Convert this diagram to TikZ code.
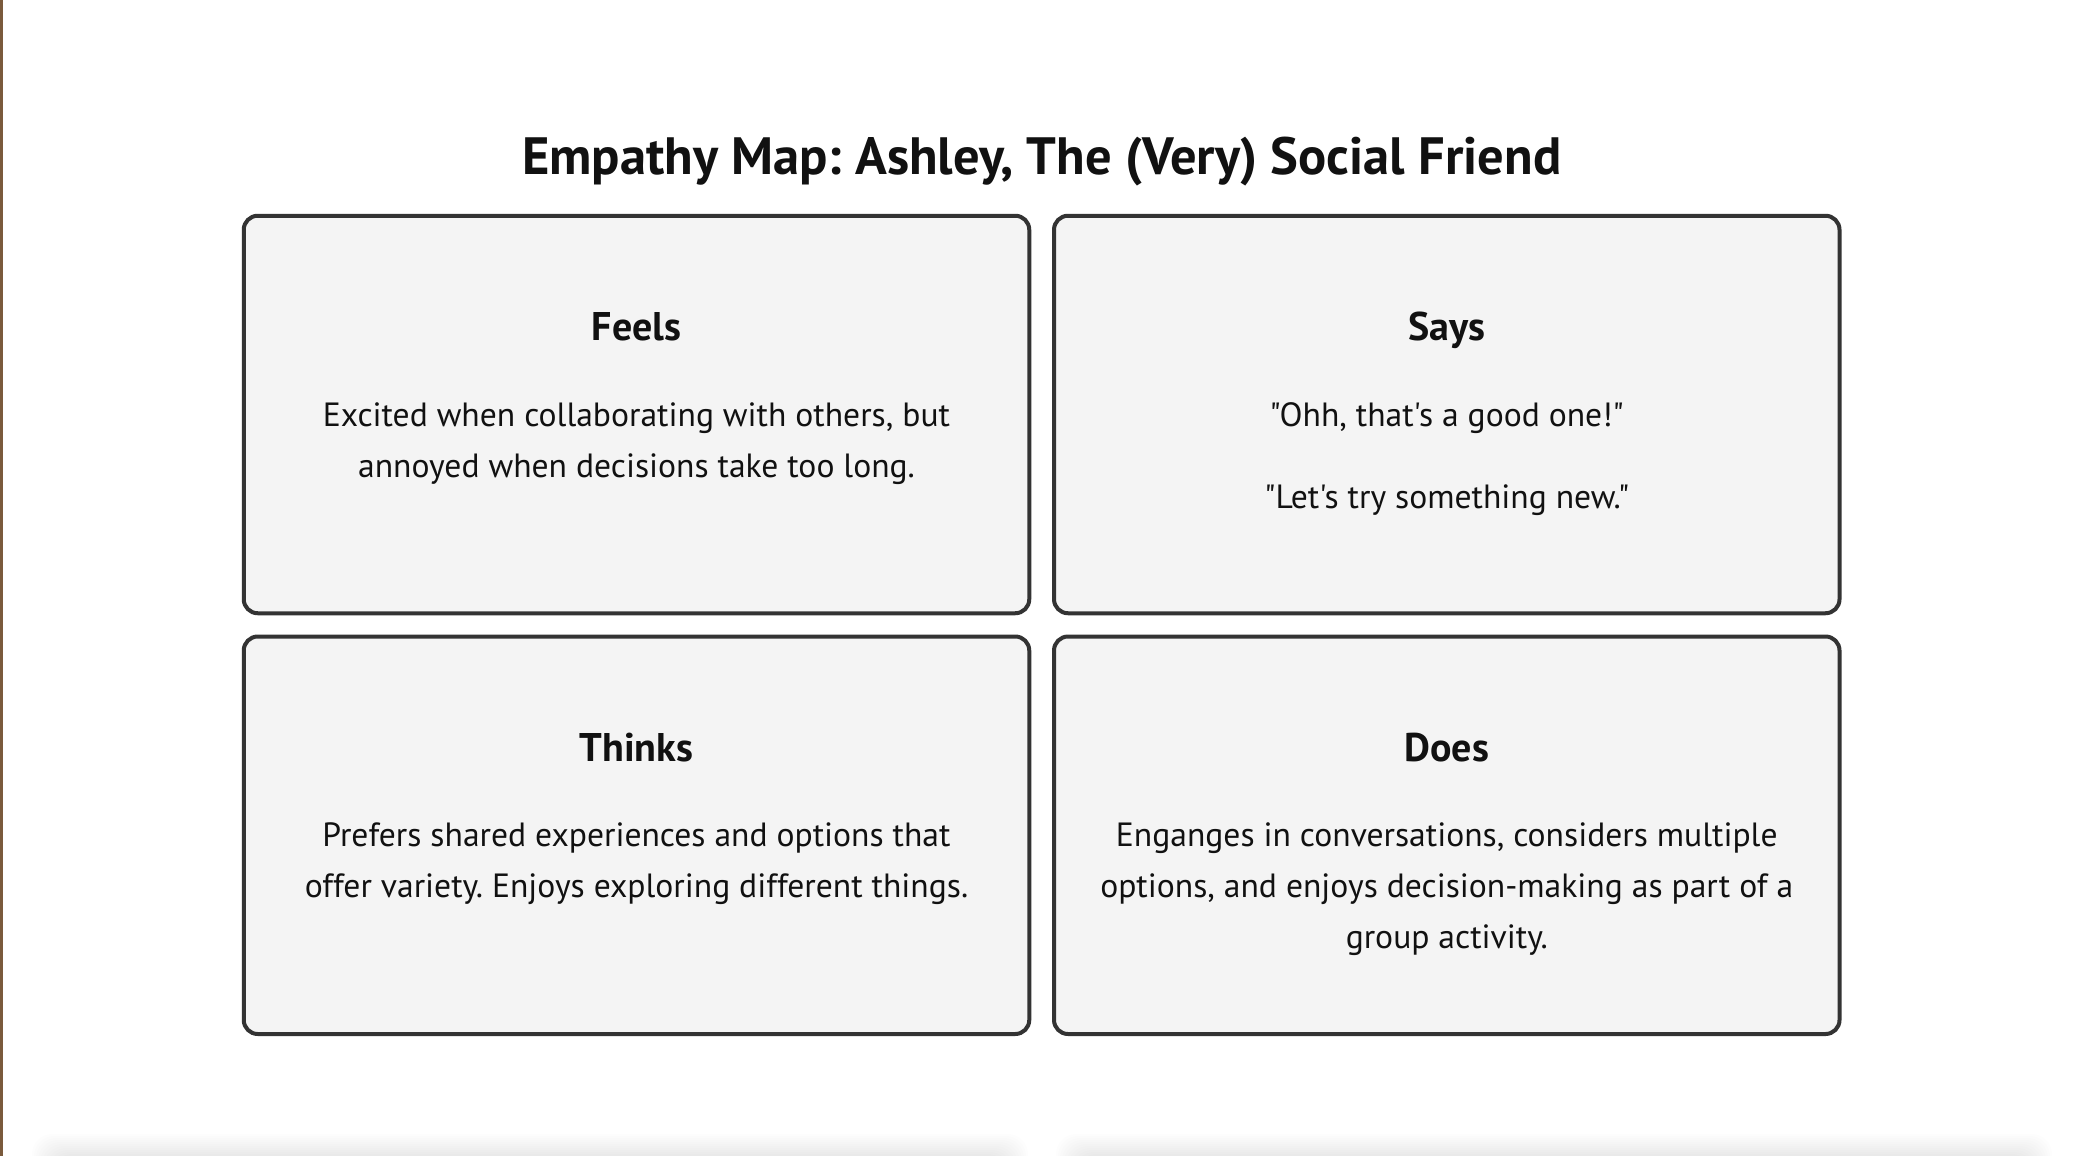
\documentclass[tikz,border=0pt]{standalone}
\usepackage{fontspec}
\setmainfont{PT Sans}[Ligatures=TeXOff]
\frenchspacing
\begin{document}
\begin{tikzpicture}[x=1pt,y=-1pt,
  card/.style={draw=cardline, fill=cardfill, line width=4pt, rounded corners=14pt,
    minimum width=785.5pt, minimum height=397.5pt, inner sep=0pt, outer sep=0pt},
  heading/.style={anchor=base, inner sep=0pt, text=ink, font=\bfseries\fontsize{40}{48}\selectfont},
  bodytext/.style={anchor=base, inner sep=0pt, text=ink, font=\fontsize{33.6}{51}\selectfont},
  pagetitle/.style={anchor=base, inner sep=0pt, text=ink, font=\bfseries\fontsize{52.5}{60}\selectfont}]
\definecolor{cardline}{HTML}{333333}
\definecolor{cardfill}{HTML}{F4F4F4}
\definecolor{ink}{HTML}{111111}
\definecolor{edgebrown}{HTML}{7A5A3C}
\newcommand{\lines}[1]{{\setlength{\tabcolsep}{0pt}\begin{tabular}[t]{c}#1\end{tabular}}}

\useasboundingbox (0,0) rectangle (2082,1156);
\fill[white] (0,0) rectangle (2082,1156);

% soft shadows of the next row of cards, cut off by the page edge
\begin{scope}
  \clip (0,0) rectangle (2082,1156);
  \foreach \s in {0,2,...,26}{
    \fill[black, opacity=0.009, rounded corners=20pt]
      (58-\s,1160-\s) rectangle (1002+\s,1240);
    \fill[black, opacity=0.009, rounded corners=20pt]
      (1082-\s,1160-\s) rectangle (2026+\s,1240);
  }
\end{scope}

% left page edge
\fill[edgebrown] (0,0) rectangle (2.5,1156);

% title
\node[pagetitle] (title) at (1041.7,174) {Empathy Map: Ashley, The (Very) Social Friend};

% quadrants
\node[card] (feels)  at (636.5,414.5) {};
\node[card] (says)   at (1446.75,414.5) {};
\node[card] (thinks) at (636.5,835.25) {};
\node[card] (does)   at (1446.75,835.25) {};

% Feels
\node[heading]  (feelshead) at (636.5,340) {Feels};
\node[bodytext] (feelstext) at (636.5,426)
  {\lines{Excited when collaborating with others, but\\annoyed when decisions take too long.}};

% Says
\node[heading]  (sayshead) at (1446.75,340) {Says};
\node[bodytext] (saysone)  at (1446.75,426) {"Ohh, that's a good one!"};
\node[bodytext] (saystwo)  at (1446.75,508.5) {"Let's try something new."};

% Thinks
\node[heading]  (thinkshead) at (636.5,761) {Thinks};
\node[bodytext] (thinkstext) at (636.5,846)
  {\lines{Prefers shared experiences and options that\\offer variety. Enjoys exploring different things.}};

% Does
\node[heading]  (doeshead) at (1446.75,761) {Does};
\node[bodytext] (doestext) at (1446.75,846)
  {\lines{Enganges in conversations, considers multiple\\options, and enjoys decision-making as part of a\\group activity.}};
\end{tikzpicture}
\end{document}
